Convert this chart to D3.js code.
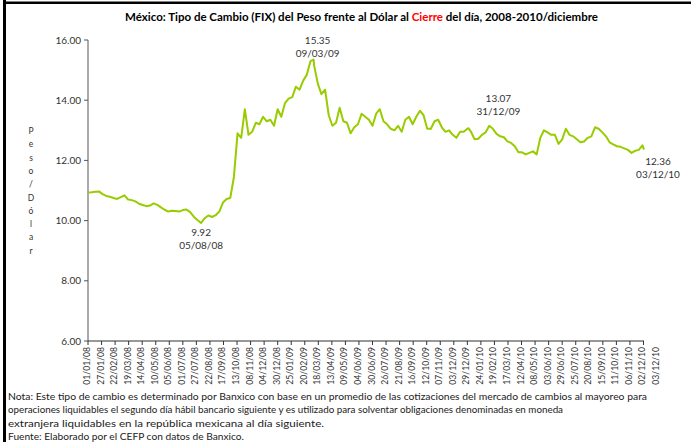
<!DOCTYPE html>
<html><head><meta charset="utf-8">
<script src="https://cdn.jsdelivr.net/npm/d3@7"></script>
<style>body{margin:0;background:#fff}svg{display:block}text{font-family:Lato,"Open Sans",sans-serif}</style>
</head><body>
<svg id="c" width="691" height="442"></svg>
<script>
// ---- data ----
const startDate = "01/01/08";           // first weekly observation
const weeklyValues = [
10.93,10.94,10.96,10.97,10.88,10.82,10.79,10.75,10.72,10.78,
10.84,10.70,10.68,10.64,10.56,10.52,10.48,10.50,10.57,10.52,
10.44,10.36,10.30,10.33,10.32,10.30,10.35,10.37,10.28,10.13,
10.02,9.92,10.08,10.17,10.12,10.18,10.30,10.60,10.72,10.75,
11.45,12.90,12.75,13.70,12.85,12.95,13.25,13.20,13.45,13.30,
13.35,13.15,13.70,13.45,13.90,14.05,14.10,14.45,14.35,14.65,
14.85,15.30,15.15,14.55,14.20,14.35,13.50,13.15,13.25,13.75,
13.30,13.25,12.90,13.10,13.20,13.55,13.45,13.35,13.15,13.55,
13.70,13.30,13.20,13.05,13.00,13.15,12.95,13.35,13.45,13.20,
13.45,13.65,13.50,13.05,13.05,13.30,13.35,13.10,12.95,13.00,
12.85,12.75,12.95,12.95,13.05,12.95,12.70,12.72,12.85,12.93,
13.15,13.05,12.88,12.80,12.77,12.63,12.58,12.47,12.27,12.27,
12.20,12.25,12.30,12.20,12.75,13.00,12.93,12.85,12.85,12.55,
12.70,13.05,12.85,12.80,12.70,12.60,12.63,12.75,12.80,13.10,
13.05,12.93,12.80,12.60,12.53,12.47,12.45,12.40,12.35,12.25,
12.32,12.35,12.50];
const markDates  = ["05/08/08","09/03/09","31/12/09","03/12/10"];
const markValues = [9.92, 15.35, 13.07, 12.36];
const xTickLabels = ["01/01/08","27/01/08","22/02/08","19/03/08","14/04/08","10/05/08","05/06/08",
"01/07/08","27/07/08","22/08/08","17/09/08","13/10/08","08/11/08","04/12/08","30/12/08","25/01/09",
"20/02/09","18/03/09","13/04/09","09/05/09","04/06/09","30/06/09","26/07/09","21/08/09","16/09/09",
"12/10/09","07/11/09","03/12/09","29/12/09","24/01/10","19/02/10","17/03/10","12/04/10","08/05/10",
"03/06/10","29/06/10","25/07/10","20/08/10","15/09/10","11/10/10","06/11/10","02/12/10","03/12/10"];
const yTickValues = [6, 8, 10, 12, 14, 16];
const titleParts = [["México: Tipo de Cambio (FIX) del Peso frente al Dólar al ", "#000"], ["Cierre", "#ff0000"], [" del día, 2008-2010/diciembre", "#000"]];
const yTitle = "Peso/Dólar";
const notes = [
 "Nota: Este tipo de cambio es determinado por Banxico con base en un promedio de las cotizaciones del mercado de cambios al mayoreo para",
 "operaciones liquidables el segundo día hábil bancario siguiente y es utilizado para solventar obligaciones denominadas en moneda",
 "extranjera liquidables en la república mexicana al día siguiente.",
 "Fuente: Elaborado por el CEFP con datos de Banxico."];

// ---- build series ----
const parse = d3.timeParse("%d/%m/%y");
const t0 = parse(startDate);
const markSet = new Set(markDates.map(d => +parse(d)));
let series = weeklyValues.map((v, i) => ({date: d3.timeDay.offset(t0, 7 * i), value: v}))
  .filter(d => !markSet.has(+d.date));
markDates.forEach((d, i) => series.push({date: parse(d), value: markValues[i]}));
series.sort((a, b) => a.date - b.date);

const svg = d3.select("#c");
svg.append("rect").attr("width", 691).attr("height", 442).attr("fill", "#fff");
// frame
svg.append("rect").attr("x", 3).attr("y", 0).attr("width", 3).attr("height", 442).attr("fill", "#000");
svg.append("rect").attr("x", 3).attr("y", 1.5).attr("width", 688).attr("height", 2.5).attr("fill", "#000");

const x = d3.scaleTime().domain([parse(xTickLabels[0]), parse(xTickLabels[xTickLabels.length - 1])]).range([88, 644]);
const y = d3.scaleLinear().domain([6, 16]).range([341, 40]);

// title
const title = svg.append("text").attr("x", 125).attr("y", 21).attr("font-size", 11).attr("font-weight", "bold")
  .attr("textLength", 473).attr("lengthAdjust", "spacingAndGlyphs");
titleParts.forEach(p => title.append("tspan").attr("fill", p[1]).text(p[0]));

// y axis
const axisColor = "#555";
svg.append("line").attr("x1", 88).attr("x2", 88).attr("y1", y(16)).attr("y2", y(6)).attr("stroke", axisColor).attr("stroke-width", 1);
yTickValues.forEach(v => {
  svg.append("line").attr("x1", 84).attr("x2", 88).attr("y1", y(v)).attr("y2", y(v)).attr("stroke", axisColor);
  svg.append("text").attr("x", 81).attr("y", y(v)).attr("dy", "0.35em").attr("text-anchor", "end")
    .attr("font-size", 10).attr("fill", "#333").text(v.toFixed(2));
});
// y title stacked letters
Array.from(yTitle).forEach((ch, i) => {
  svg.append("text").attr("x", 31).attr("y", 134 + i * 13.3).attr("text-anchor", "middle")
    .attr("font-size", 8.5).attr("fill", "#333").text(ch);
});

// x axis
svg.append("line").attr("x1", 88).attr("x2", 644).attr("y1", 341).attr("y2", 341).attr("stroke", "#333");
const tickDates = xTickLabels.map(parse);
const step = x(tickDates[1]) - x(tickDates[0]);
tickDates.forEach((d, i) => {
  let xp = x(d);
  const extra = i > 0 && (xp - x(tickDates[i - 1])) < step * 0.5;
  if (extra) xp = x(tickDates[i - 1]) + step;
  else svg.append("line").attr("x1", xp).attr("x2", xp).attr("y1", 341).attr("y2", 345).attr("stroke", "#333");
  svg.append("text").attr("transform", `translate(${xp - 1},347) rotate(-90)`).attr("dy", "0.35em")
    .attr("text-anchor", "end").attr("font-size", 8.6).attr("fill", "#333").text(xTickLabels[i]);
});

// line
svg.append("path").datum(series).attr("fill", "none").attr("stroke", "#99cc00").attr("stroke-width", 2)
  .attr("stroke-linejoin", "round")
  .attr("d", d3.line().x(d => x(d.date)).y(d => y(d.value)));

// annotations
const annOffsets = [[0, 13, 26], [4, -16, -3], [30, -26, -13], [14, 15, 28]];
markDates.forEach((d, i) => {
  const px = x(parse(d)), py = y(markValues[i]);
  const o = annOffsets[i];
  svg.append("text").attr("x", px + o[0]).attr("y", py + o[1]).attr("text-anchor", "middle")
    .attr("font-size", 10).attr("fill", "#333").text(markValues[i].toFixed(2));
  svg.append("text").attr("x", px + o[0]).attr("y", py + o[2]).attr("text-anchor", "middle")
    .attr("font-size", 10).attr("fill", "#333").text(d);
});

// notes
const noteLens = [639, 555, 316, 236];
notes.forEach((t, i) => {
  svg.append("text").attr("x", 8).attr("y", 400 + i * 13.3).attr("font-size", 9).attr("fill", "#222")
    .attr("textLength", noteLens[i]).attr("lengthAdjust", "spacingAndGlyphs").text(t);
});
</script>
</body></html>
